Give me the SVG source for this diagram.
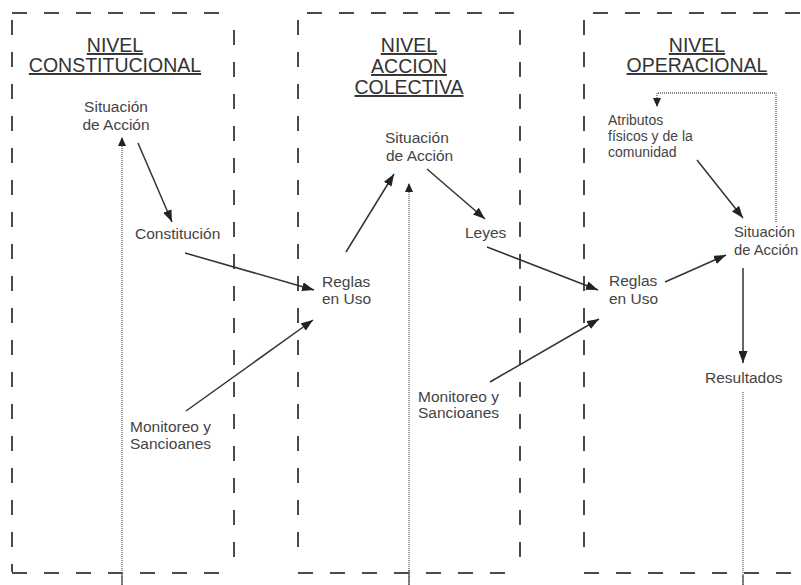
<svg xmlns="http://www.w3.org/2000/svg" width="801" height="585" viewBox="0 0 801 585">
<defs>
<style>
.frame{fill:none;stroke:#4a4a4a;stroke-width:2;stroke-dasharray:15 17}
.title{font-family:"Liberation Sans",Arial,sans-serif;font-size:19.5px;fill:#333;text-anchor:middle;text-decoration:underline}
.lbl{font-family:"Liberation Sans",Arial,sans-serif;font-size:15.5px;fill:#444}
.small{font-family:"Liberation Sans",Arial,sans-serif;font-size:14px;fill:#444}
.arr{fill:none;stroke:#333;stroke-width:1.5;marker-end:url(#ah)}
.dot{fill:none;stroke:#666;stroke-width:1.3;stroke-dasharray:1 1}
</style>
<marker id="ah" markerUnits="userSpaceOnUse" markerWidth="12" markerHeight="9" refX="12" refY="4.5" orient="auto"><path d="M0,0 L12,4.5 L0,9 z" fill="#222"/></marker>
<marker id="ahs" markerUnits="userSpaceOnUse" markerWidth="9" markerHeight="8" refX="9" refY="4" orient="auto"><path d="M0,0 L9,4 L0,8 z" fill="#222"/></marker>
</defs>
<rect width="801" height="585" fill="#fff"/>
<g id="frames">
<path class="frame" d="M12,13 H234 M12,20 V572 M234,30 V568 M12,573 H230"/>
<path class="frame" d="M307,13 H520 M298,20 V560 M520,30 V565 M298,573 H515"/>
<path class="frame" d="M593,13 H801 M584,20 V560 M584,573 H801"/>
</g>
<g id="titles">
<text class="title" x="115" y="52">NIVEL</text>
<text class="title" x="115" y="72">CONSTITUCIONAL</text>
<text class="title" x="409" y="52">NIVEL</text>
<text class="title" x="409" y="73">ACCION</text>
<text class="title" x="409" y="94">COLECTIVA</text>
<text class="title" x="697" y="52">NIVEL</text>
<text class="title" x="697" y="72">OPERACIONAL</text>
</g>
<g id="connectors">
<path class="arr" d="M138,143 L172,222"/>
<path class="arr" d="M185,253 L314,290"/>
<path class="arr" d="M186,411 L313,320"/>
<path class="arr" d="M346,252 L394,174"/>
<path class="arr" d="M427,169 L485,219"/>
<path class="arr" d="M487,247 L598,290"/>
<path class="arr" d="M490,382 L599,319"/>
<path class="arr" d="M665,282 L726,255"/>
<path class="arr" d="M697,160 L743,218"/>
<path class="arr" d="M743,268 L743,363"/>
<path class="dot" d="M122,585 L122,137" marker-end="url(#ahs)"/>
<path class="dot" d="M409,585 L409,183" marker-end="url(#ahs)"/>
<path class="dot" d="M743,392 L743,585"/>
<path class="dot" d="M776,222 L776,93 L657,93 L657,107" marker-end="url(#ahs)"/>
<path d="M122,575 V585 M409,570 V585 M743,575 V585" stroke="#555" stroke-width="1.3"/>
</g>
<g id="n1-situacion"><text class="lbl" x="116" y="112" text-anchor="middle">Situación</text><text class="lbl" x="116" y="130" text-anchor="middle">de Acción</text></g>
<g id="n1-constitucion"><text class="lbl" x="135" y="239">Constitución</text></g>
<g id="n1-monitoreo"><text class="lbl" x="130" y="432">Monitoreo y</text><text class="lbl" x="130" y="449">Sancioanes</text></g>
<g id="n2-reglas"><text class="lbl" x="322" y="287">Reglas</text><text class="lbl" x="322" y="304">en Uso</text></g>
<g id="n2-situacion"><text class="lbl" x="385" y="143">Situación</text><text class="lbl" x="386" y="161">de Acción</text></g>
<g id="n2-leyes"><text class="lbl" x="465" y="238">Leyes</text></g>
<g id="n2-monitoreo"><text class="lbl" x="418" y="402">Monitoreo y</text><text class="lbl" x="418" y="418">Sancioanes</text></g>
<g id="n3-atributos"><text class="small" x="608" y="125">Atributos</text><text class="small" x="608" y="141">físicos y de la</text><text class="small" x="608" y="157">comunidad</text></g>
<g id="n3-reglas"><text class="lbl" x="609" y="286">Reglas</text><text class="lbl" x="609" y="304">en Uso</text></g>
<g id="n3-situacion"><text class="lbl" x="734" y="237" style="font-size:14.8px">Situación</text><text class="lbl" x="734" y="255" style="font-size:14.8px">de Acción</text></g>
<g id="n3-resultados"><text class="lbl" x="705" y="383">Resultados</text></g>
</svg>
